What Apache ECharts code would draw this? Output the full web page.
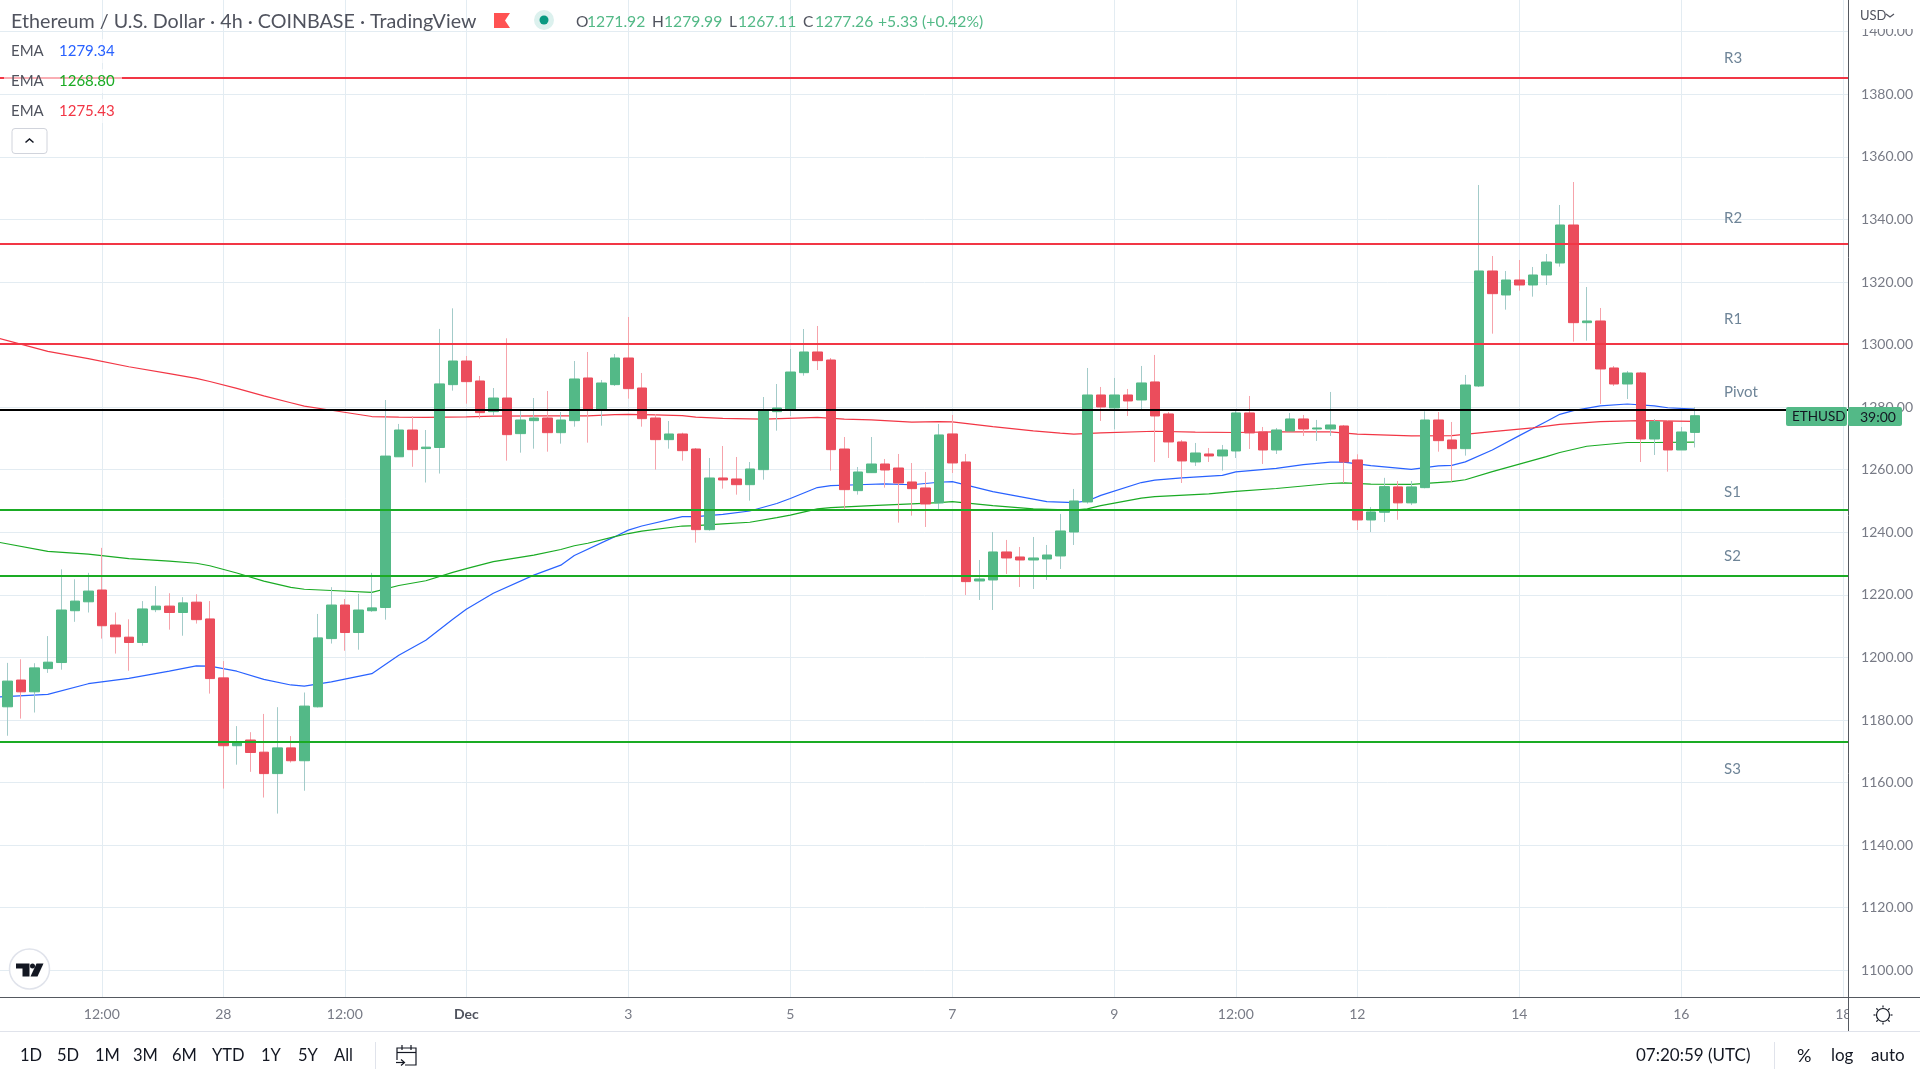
<!DOCTYPE html>
<html>
<head>
<meta charset="utf-8">
<title>ETHUSD 4h</title>
<style>html,body{margin:0;padding:0;background:#fff}#chart{width:1920px;height:1080px}</style>
<script src="https://cdn.jsdelivr.net/npm/echarts@6/dist/echarts.min.js"></script>
</head>
<body>
<div id="chart"></div>
<script>
// candles, 4h bars, oldest first
const opens = [1184.22,1192.78,1189.01,1196.43,1198.37,1214.93,1217.78,1221.55,1210.36,1206.48,1204.77,1215.27,1216.41,1214.36,1217.67,1212.30,1193.47,1171.78,1173.60,1169.72,1162.87,1171.09,1166.98,1184.22,1206.02,1216.75,1207.96,1214.93,1215.95,1264.13,1272.69,1266.76,1267.10,1287.19,1294.75,1288.36,1278.56,1282.92,1271.53,1275.68,1276.53,1271.84,1275.68,1289.32,1279.30,1287.19,1295.71,1286.12,1276.53,1269.61,1271.42,1266.62,1240.84,1257.36,1257.04,1255.22,1260.02,1278.56,1279.30,1291.02,1297.63,1295.07,1266.62,1253.31,1259.06,1261.83,1260.55,1256.08,1254.17,1249.37,1271.43,1262.48,1224.44,1224.76,1233.71,1232.11,1231.15,1231.47,1232.43,1240.10,1249.69,1283.89,1279.74,1283.89,1282.29,1288.05,1277.82,1268.87,1262.48,1265.03,1264.39,1265.99,1278.14,1272.06,1266.31,1272.38,1276.22,1273.02,1273.02,1273.98,1263.12,1243.94,1246.40,1254.50,1249.40,1254.27,1275.89,1269.50,1266.73,1286.76,1323.52,1315.85,1320.64,1319.04,1322.24,1326.08,1338.22,1307.00,1307.54,1292.52,1287.40,1290.92,1269.82,1275.36,1266.31,1271.92];
const highs = [1198.26,1199.40,1198.15,1206.82,1228.17,1224.97,1227.03,1235.02,1214.36,1212.19,1218.01,1222.80,1220.52,1219.27,1220.18,1218.01,1198.83,1178.05,1176.11,1181.94,1184.10,1174.86,1188.79,1213.90,1222.46,1218.69,1220.29,1227.03,1282.28,1274.63,1277.15,1272.69,1305.00,1311.58,1296.35,1289.96,1286.12,1302.00,1278.77,1282.92,1285.16,1278.45,1294.75,1297.63,1288.68,1296.99,1308.81,1290.92,1277.81,1275.57,1271.84,1266.94,1263.75,1267.58,1264.07,1262.47,1283.24,1287.40,1298.59,1304.98,1305.94,1295.71,1270.46,1260.87,1270.46,1263.43,1265.03,1262.15,1259.28,1274.62,1277.50,1265.03,1231.15,1240.10,1237.55,1235.31,1238.50,1235.95,1245.86,1253.85,1292.52,1286.45,1289.32,1285.81,1293.16,1296.68,1278.46,1269.51,1268.55,1266.95,1267.91,1279.10,1283.57,1273.66,1273.34,1278.14,1277.50,1275.90,1284.85,1274.30,1264.93,1248.09,1257.40,1256.40,1256.40,1278.67,1278.45,1275.26,1290.28,1351.01,1328.31,1323.52,1327.03,1324.80,1328.95,1344.61,1351.96,1318.40,1311.69,1293.15,1291.56,1291.24,1276.21,1275.89,1273.66,1279.99];
const lows = [1174.97,1180.45,1182.39,1195.06,1196.09,1211.39,1214.36,1206.02,1201.23,1195.75,1203.74,1214.47,1208.88,1206.94,1210.82,1188.44,1158.08,1165.72,1163.44,1155.22,1150.09,1166.41,1157.39,1183.99,1204.43,1202.14,1202.48,1214.58,1212.07,1264.13,1260.93,1255.91,1258.77,1285.27,1281.11,1276.32,1277.28,1262.90,1265.45,1266.73,1265.77,1268.33,1273.76,1268.65,1274.08,1286.76,1282.71,1273.76,1260.02,1266.73,1262.90,1236.69,1240.52,1253.95,1252.03,1250.11,1256.82,1272.48,1277.17,1290.06,1291.87,1259.70,1247.45,1252.03,1259.06,1254.27,1243.08,1245.32,1241.70,1247.45,1258.96,1219.97,1218.37,1215.17,1226.68,1222.52,1221.88,1224.76,1228.28,1235.95,1249.16,1275.58,1272.92,1277.18,1279.31,1262.48,1263.75,1255.76,1261.20,1262.48,1259.71,1263.75,1266.63,1261.84,1265.03,1272.38,1270.79,1269.19,1270.79,1255.76,1240.74,1240.10,1243.30,1244.00,1248.70,1254.05,1265.77,1256.19,1264.50,1286.44,1303.49,1311.16,1317.23,1315.31,1319.04,1324.90,1300.93,1301.25,1281.01,1286.76,1282.61,1262.47,1264.71,1259.38,1266.31,1267.11];
const closes = [1192.44,1189.01,1196.66,1198.49,1215.16,1218.01,1221.21,1210.13,1206.59,1204.77,1215.50,1216.41,1214.36,1217.44,1212.07,1193.24,1171.78,1172.92,1169.61,1162.87,1171.09,1166.98,1184.45,1206.25,1216.75,1207.96,1215.16,1215.84,1264.36,1272.69,1266.41,1267.21,1287.42,1294.75,1288.15,1278.24,1282.92,1271.21,1275.89,1276.53,1271.84,1275.89,1289.00,1279.30,1287.72,1295.71,1285.91,1276.32,1269.61,1271.42,1266.09,1240.84,1257.36,1256.72,1255.22,1260.23,1279.09,1279.73,1291.23,1297.63,1294.86,1266.41,1253.63,1259.27,1261.83,1259.91,1255.76,1253.95,1249.05,1271.11,1262.16,1224.23,1225.08,1233.71,1231.79,1231.15,1231.79,1232.75,1240.42,1250.01,1283.89,1280.06,1283.89,1281.97,1287.73,1277.18,1268.87,1262.80,1265.35,1264.39,1266.31,1278.14,1271.75,1266.31,1272.70,1276.22,1273.02,1273.34,1274.30,1262.48,1243.94,1246.50,1254.60,1249.40,1254.50,1275.89,1269.29,1266.73,1287.08,1323.52,1316.27,1320.64,1319.04,1322.24,1326.39,1338.22,1307.00,1307.54,1292.20,1287.40,1290.92,1269.82,1275.36,1266.31,1272.06,1277.26];

// ema lines, bar number and value where the line bends (bar -1 is just left of the window)
const emaBlueBars = [-1,3,6,9,12,14,15,17,19,21,22,24,27,29,31,33,34,36,39,41,42,45,46,47,50,51,53,55,57,58,60,61,63,65,67,69,70,73,75,77,79,80,81,84,85,87,90,91,94,96,98,99,101,104,106,107,108,110,112,114,115,116,118,120,122,123,125];
const emaBlue = [1187.3,1188.2,1191.6,1193.3,1195.6,1197.3,1197.2,1195.6,1193.0,1191.2,1190.8,1192.2,1194.8,1200.7,1205.5,1212.2,1215.4,1220.5,1226.3,1229.5,1232.6,1238.6,1240.7,1242.0,1245.0,1245.0,1245.7,1246.8,1249.2,1250.8,1254.3,1254.9,1255.2,1255.5,1255.2,1256.0,1256.2,1253.0,1251.4,1249.8,1249.5,1250.0,1251.8,1255.9,1256.7,1257.4,1258.2,1259.3,1260.4,1261.6,1262.4,1262.4,1261.3,1260.1,1261.2,1261.4,1262.5,1266.3,1270.9,1275.4,1277.7,1278.9,1280.4,1281.0,1280.4,1279.8,1279.34];
const emaGreenBars = [-1,3,6,9,12,14,15,17,19,21,22,24,27,29,31,33,34,36,39,41,42,43,45,46,47,50,51,53,55,57,58,60,61,64,67,69,70,73,76,79,80,81,84,85,89,91,94,98,99,101,104,107,108,110,112,114,115,117,120,122,125];
const emaGreen = [1237.1,1233.9,1233.0,1231.6,1230.8,1230.1,1229.3,1227.0,1224.4,1222.4,1221.8,1221.4,1220.8,1223.0,1224.5,1227.2,1228.4,1230.6,1232.7,1234.5,1235.7,1236.5,1238.6,1239.6,1240.4,1242.0,1242.1,1242.7,1243.2,1244.7,1245.5,1247.5,1247.9,1248.5,1249.1,1249.5,1249.8,1248.5,1247.5,1247.1,1247.5,1248.5,1250.9,1251.4,1252.3,1253.1,1254.0,1255.6,1255.8,1255.4,1255.3,1256.2,1256.8,1259.4,1261.8,1264.2,1265.5,1267.5,1268.7,1268.7,1268.8];
const emaRedBars = [-1,3,6,9,12,14,15,17,19,21,22,24,27,29,31,34,36,40,43,45,46,48,50,51,53,56,59,60,62,64,67,69,70,73,76,78,79,81,85,88,91,94,98,100,104,107,110,113,115,118,121,125];
const emaRed = [1302.4,1297.8,1295.5,1292.9,1290.7,1289.2,1288.2,1286.0,1283.6,1281.4,1280.3,1279.0,1277.0,1276.8,1276.7,1276.9,1277.1,1277.2,1277.2,1277.6,1277.7,1277.5,1277.3,1276.8,1276.4,1276.2,1276.6,1276.7,1276.2,1275.9,1275.2,1275.4,1275.3,1273.8,1272.4,1271.7,1271.4,1271.8,1272.3,1272.0,1271.9,1272.1,1272.1,1271.4,1270.8,1270.9,1272.2,1273.4,1274.5,1275.4,1275.7,1275.43];

// pivot levels
const pivotNames = ['R3','R2','R1','Pivot','S1','S2','S3'];
const pivotLevels = [1385.2,1332.1,1300.3,1279.1,1247.2,1226.1,1173.0];

// time axis
const timeTickBars = [7,16,25,34,46,58,70,82,91,100,112,124,136];
const timeTickLabels = ['12:00','28','12:00','Dec','3','5','7','9','12:00','12','14','16','18'];
const barCount = 138; // bar -1 to bar 136
const categories = [];
for (let i = 0; i < barCount; i++) categories.push(String(i - 1));

const UP = '#53b987', DOWN = '#eb4d5c', UP_WICK = '#a3cbc9', DOWN_WICK = '#f6a3ab';
const RED = '#f23645', GREEN = '#1aab24', BLUE = '#2962ff';
const GRID = '#e3ecf2', TXT = '#131722', AXIS_TXT = '#787b86', FRAME = '#555960';
const FONT = 'Lato, "Noto Sans", sans-serif';

function sparseLine(bars, vals) {
	let out = new Array(barCount).fill('-');
	bars.forEach((b, i) => { out[b + 1] = vals[i]; });
	return out;
}
function emaSeries(name, color, bars, vals) {
	return {
		name: name, type: 'line', xAxisIndex: 0, yAxisIndex: 0, z: 2,
		data: sparseLine(bars, vals), connectNulls: true, showSymbol: false, silent: true,
		lineStyle: { color: color, width: 1.2 }
	};
}
// candle layers: thin one carries the wick, wide one the body
const emptyBar = ['-', '-', '-', '-'];
const wickData = [emptyBar], bodyData = [emptyBar];
opens.forEach((o, i) => {
	wickData.push([o, closes[i], lows[i], highs[i]]);
	bodyData.push([o, closes[i], Math.min(o, closes[i]), Math.max(o, closes[i])]);
});

// ---- page furniture
function txt(x, y, text, size, color, extra) {
	return Object.assign({ type: 'text', x: x, y: y, z: 20, silent: true, style: { text: text, fontSize: size, fill: color, fontFamily: FONT, verticalAlign: 'middle' } }, extra || {});
}
function rect(x, y, w, h, fill, z, extra) {
	extra = extra || {};
	return { type: 'rect', z: z, silent: true, shape: { x: x, y: y, width: w, height: h, r: extra.r || 0 }, style: { fill: fill, stroke: extra.stroke || null, opacity: extra.opacity != null ? extra.opacity : 1 } };
}
function seg(x1, y1, x2, y2, color, z, width) {
	return { type: 'line', z: z, silent: true, shape: { x1: x1, y1: y1, x2: x2, y2: y2 }, style: { stroke: color, lineWidth: width || 1 } };
}
const graphics = [];
// covers what sticks out past the price scale
graphics.push(rect(1849, 0, 71, 1031, '#fff', 10));
graphics.push(seg(1848.5, 0, 1848.5, 1031, FRAME, 15));
graphics.push(seg(0, 997.5, 1920, 997.5, FRAME, 15));
graphics.push(seg(0, 1031.5, 1920, 1031.5, '#e0e3eb', 15));
graphics.push(rect(1849, 0, 71, 29, '#fff', 16));
graphics.push(txt(1860, 16, 'USD', 13, '#50535e'));
graphics.push({ type: 'polyline', z: 20, silent: true, shape: { points: [[1886, 14], [1890, 17], [1894, 14]] }, style: { stroke: '#50535e', lineWidth: 1.2, fill: null } });
// title row
graphics.push(txt(11, 22, 'Ethereum / U.S. Dollar · 4h · COINBASE · TradingView', 19.7, '#50535e'));
graphics.push({ type: 'polygon', z: 20, silent: true, shape: { points: [[494, 13], [510, 13], [505, 20.5], [510, 28], [494, 28]] }, style: { fill: '#ff5252' } });
graphics.push({ type: 'circle', z: 20, silent: true, shape: { cx: 544, cy: 20, r: 10 }, style: { fill: '#dcf1ee' } });
graphics.push({ type: 'circle', z: 20, silent: true, shape: { cx: 544, cy: 20, r: 4.5 }, style: { fill: '#089981' } });
[[576, 'O'], [652, 'H'], [729, 'L'], [803, 'C']].forEach(r => graphics.push(txt(r[0], 22, r[1], 15.5, '#50535e')));
[[587, '1271.92'], [664, '1279.99'], [738, '1267.11'], [815, '1277.26'], [878, '+5.33 (+0.42%)']].forEach(r => graphics.push(txt(r[0], 22, r[1], 15.7, UP)));
// ema legend
[[51, '1279.34', BLUE], [81, '1268.80', GREEN], [111, '1275.43', RED]].forEach(r => {
	graphics.push(rect(4, r[0] - 12, 118, 24, '#fff', 9, { opacity: 0.6 }));
	graphics.push(txt(11, r[0], 'EMA', 15, '#50535e'));
	graphics.push(txt(59, r[0], r[1], 15, r[2]));
});
graphics.push(rect(12, 128.5, 35, 25, '#fff', 19, { r: 3, stroke: '#d1d4dc' }));
graphics.push({ type: 'polyline', z: 20, silent: true, shape: { points: [[25.5, 142.5], [29.5, 139], [33.5, 142.5]] }, style: { stroke: TXT, lineWidth: 1.5, fill: null } });
// pivot names
[[1724, 58], [1724, 218], [1724, 319], [1724, 392], [1724, 492], [1724, 556], [1724, 769]].forEach((p, i) => {
	graphics.push(txt(p[0], p[1], pivotNames[i], 15, '#6f8598'));
});
// symbol tag on the scale
graphics.push(rect(1786, 407, 61, 19, UP, 18, { r: 2 }));
graphics.push(rect(1848, 407, 54, 19, UP, 18, { r: 2 }));
graphics.push(txt(1792, 417, 'ETHUSD', 13.5, TXT));
graphics.push(txt(1860, 417, '39:00', 14, TXT));
// logo
graphics.push({ type: 'circle', z: 20, silent: true, shape: { cx: 29.5, cy: 969, r: 20 }, style: { fill: '#fff', stroke: '#e0e3eb', lineWidth: 1.5 } });
graphics.push({ type: 'polygon', z: 21, silent: true, shape: { points: [[16, 963.5], [29.5, 963.5], [29.5, 976.5], [22.5, 976.5], [22.5, 968.5], [16, 968.5]] }, style: { fill: TXT } });
graphics.push({ type: 'circle', z: 21, silent: true, shape: { cx: 32.5, cy: 966, r: 2.5 }, style: { fill: TXT } });
graphics.push({ type: 'polygon', z: 21, silent: true, shape: { points: [[36.5, 963.5], [43.5, 963.5], [37.5, 976.5], [30.5, 976.5]] }, style: { fill: TXT } });
// range buttons
[[20, '1D'], [57, '5D'], [95, '1M'], [133, '3M'], [172, '6M'], [212, 'YTD'], [261, '1Y'], [298, '5Y'], [334, 'All']].forEach(r => graphics.push(txt(r[0], 1056, r[1], 16.5, TXT)));
graphics.push(seg(375.5, 1042, 375.5, 1069, '#e0e3eb', 15));
graphics.push({ type: 'polyline', z: 20, silent: true, shape: { points: [[397, 1060], [397, 1048], [416, 1048], [416, 1065], [405, 1065]] }, style: { stroke: TXT, lineWidth: 1.2, fill: null } });
graphics.push(seg(397, 1052.5, 416, 1052.5, TXT, 20, 1.2));
graphics.push(seg(402, 1045, 402, 1050, TXT, 20, 1.2));
graphics.push(seg(411, 1045, 411, 1050, TXT, 20, 1.2));
graphics.push({ type: 'polyline', z: 20, silent: true, shape: { points: [[396, 1062.5], [404, 1062.5]] }, style: { stroke: TXT, lineWidth: 1.2, fill: null } });
graphics.push({ type: 'polyline', z: 20, silent: true, shape: { points: [[401, 1059.5], [404.5, 1062.5], [401, 1065.5]] }, style: { stroke: TXT, lineWidth: 1.2, fill: null } });
// bottom right
graphics.push(txt(1636, 1056, '07:20:59 (UTC)', 17, TXT));
graphics.push(seg(1774.5, 1042, 1774.5, 1069, '#e0e3eb', 15));
graphics.push(txt(1797, 1056, '%', 18, TXT));
graphics.push(txt(1831, 1056, 'log', 17, TXT));
graphics.push(txt(1871, 1056, 'auto', 17, TXT));
// settings icon
graphics.push({ type: 'circle', z: 20, silent: true, shape: { cx: 1883, cy: 1015, r: 6.5 }, style: { fill: '#fff', stroke: TXT, lineWidth: 1.2 } });
[[0, -1], [0, 1], [1, 0], [-1, 0], [.7, .7], [-.7, .7], [.7, -.7], [-.7, -.7]].forEach(d => {
	graphics.push(seg(1883 + d[0] * 7.5, 1015 + d[1] * 7.5, 1883 + d[0] * 9.5, 1015 + d[1] * 9.5, TXT, 20, 1.2));
});

const chart = echarts.init(document.getElementById('chart'), null, { renderer: 'canvas' });
chart.setOption({
	animation: false,
	backgroundColor: '#fff',
	textStyle: { fontFamily: FONT },
	grid: [
		{ left: -12.95, width: 1863, top: 31.7, height: 938.6, outerBoundsMode: 'none' }, // 1400 down to 1100
		{ left: -12.95, width: 1863, top: 0, height: 997, outerBoundsMode: 'none' } // whole pane, time axis
	],
	xAxis: [
		{ gridIndex: 0, type: 'category', data: categories, show: false },
		{
			gridIndex: 1, type: 'category', data: categories, position: 'bottom',
			axisLine: { show: false }, axisTick: { show: false },
			axisLabel: {
				color: AXIS_TXT, fontSize: 14, margin: 10, hideOverlap: false,
				interval: (idx) => timeTickBars.includes(idx - 1),
				formatter: (val) => {
					let t = timeTickLabels[timeTickBars.indexOf(+val)];
					return t === 'Dec' ? '{b|Dec}' : t;
				},
				rich: { b: { fontWeight: 'bold', fontSize: 14, color: '#50535e', fontFamily: FONT } }
			},
			splitLine: {
				show: true, alignWithLabel: true,
				interval: (idx) => timeTickBars.includes(idx - 1),
				lineStyle: { color: GRID, width: 1 }
			}
		}
	],
	yAxis: [
		{
			gridIndex: 0, type: 'value', position: 'right', min: 1100, max: 1400, interval: 20,
			axisLine: { show: false }, axisTick: { show: false }, axisLabel: { show: false },
			splitLine: { show: true, lineStyle: { color: GRID, width: 1 } }
		},
		{
			gridIndex: 0, type: 'value', position: 'right', min: 1100, max: 1400, interval: 20, z: 12,
			axisLine: { show: false }, axisTick: { show: false }, splitLine: { show: false },
			axisLabel: { color: AXIS_TXT, fontSize: 14, margin: 11, showMinLabel: true, showMaxLabel: true, formatter: (v) => v.toFixed(2) }
		},
		{ gridIndex: 1, type: 'value', min: 0, max: 1, show: false, splitLine: { show: false } }
	],
	series: [
		emaSeries('EMA blue', BLUE, emaBlueBars, emaBlue),
		emaSeries('EMA green', GREEN, emaGreenBars, emaGreen),
		emaSeries('EMA red', RED, emaRedBars, emaRed),
		{
			name: 'wicks', type: 'candlestick', xAxisIndex: 0, yAxisIndex: 0, z: 3, silent: true, barWidth: 0, data: wickData,
			itemStyle: { color: UP_WICK, color0: DOWN_WICK, borderColor: UP_WICK, borderColor0: DOWN_WICK, borderWidth: 1 }
		},
		{
			name: 'bodies', type: 'candlestick', xAxisIndex: 0, yAxisIndex: 0, z: 4, silent: true, barWidth: 10, data: bodyData,
			itemStyle: { color: UP, color0: DOWN, borderColor: UP, borderColor0: DOWN, borderWidth: 1 }
		},
		{
			name: 'pivots', type: 'line', xAxisIndex: 0, yAxisIndex: 0, z: 5, silent: true, showSymbol: false, data: new Array(barCount).fill('-'),
			markLine: {
				silent: true, symbol: 'none', animation: false, label: { show: false },
				data: pivotLevels.map((v, i) => ({
					yAxis: v,
					lineStyle: { type: 'solid', width: 2, color: i < 3 ? RED : (i === 3 ? '#000' : GREEN) }
				}))
			}
		}
	],
	graphic: { elements: graphics }
});
</script>
</body>
</html>
